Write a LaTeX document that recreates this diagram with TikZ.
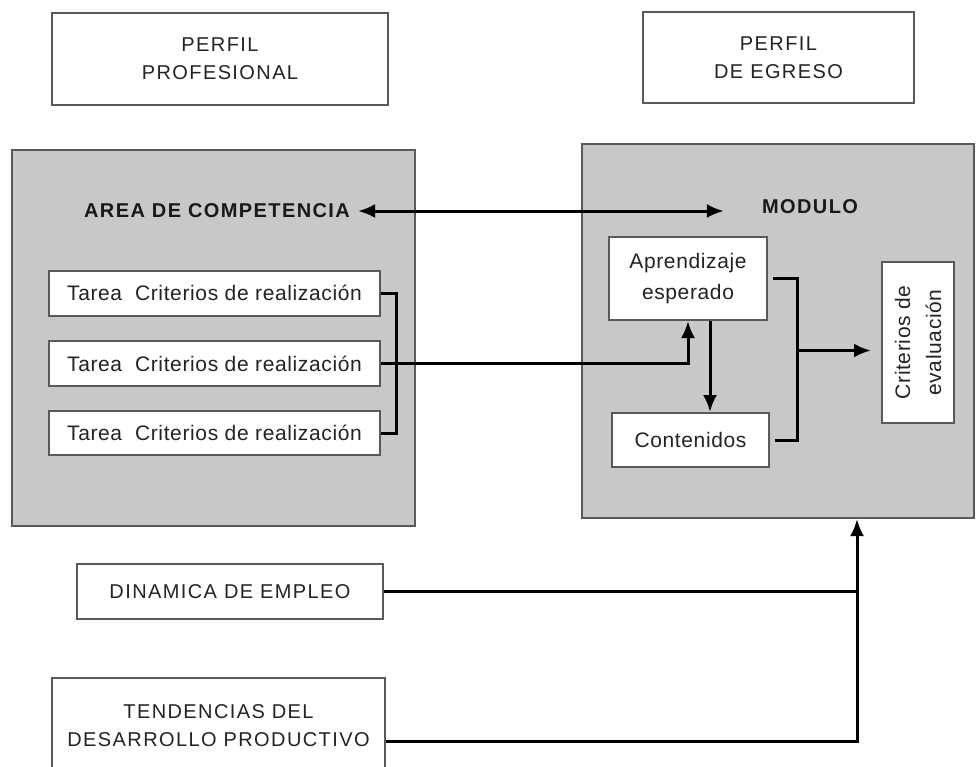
\documentclass[tikz,border=0pt]{standalone}
\usepackage{fontspec}
\setmainfont{Liberation Sans}
\newfontfamily\lcfam{Liberation Sans}[LetterSpace=3]
\newfontfamily\ucfam{Liberation Sans}[LetterSpace=7]
\usetikzlibrary{arrows.meta}
\definecolor{bggray}{RGB}{200,200,200}
\definecolor{bordergray}{RGB}{90,90,90}
\definecolor{txtgray}{RGB}{35,35,35}
\newcommand{\lcf}{\lcfam\fontsize{21}{31}\selectfont}
\newcommand{\ucf}{\ucfam\fontsize{20}{28}\selectfont}
\tikzset{
  wbox/.style={draw=bordergray, line width=2pt, fill=white, inner sep=0pt, align=center, text=txtgray},
  gbox/.style={draw=bordergray, line width=2pt, fill=bggray, inner sep=0pt},
  title/.style={inner sep=0pt, text=black!90, font=\ucf\bfseries},
  conn/.style={line width=3pt, draw=black},
  tip/.style={-{Latex[length=17pt,width=14pt]}},
  dtip/.style={{Latex[length=17pt,width=14pt]}-{Latex[length=17pt,width=14pt]}}
}
\begin{document}
\begin{tikzpicture}[x=1pt,y=-1pt]
\useasboundingbox[fill=white] (0,0) rectangle (977,766);
% top boxes
\node[wbox, font=\ucf, minimum width=336pt, minimum height=92pt] (pp) at (220,59) {PERFIL\\PROFESIONAL};
\node[wbox, font=\ucf, minimum width=271pt, minimum height=91pt] (pe) at (778.5,57.5) {PERFIL\\DE EGRESO};
% gray panels
\node[gbox, minimum width=403pt, minimum height=376pt] (lg) at (213.5,338) {};
\node[gbox, minimum width=392pt, minimum height=374pt] (rg) at (778,331) {};
% titles
\node[title] (area) at (217,211) {AREA DE COMPETENCIA};
\node[title] (mod) at (810,207) {MODULO};
% tasks
\node[wbox, font=\lcf, minimum width=331pt, minimum height=45pt] (t1) at (214.5,293) {Tarea\ \ Criterios de realización};
\node[wbox, font=\lcf, minimum width=331pt, minimum height=45pt] (t2) at (214.5,363.5) {Tarea\ \ Criterios de realización};
\node[wbox, font=\lcf, minimum width=331pt, minimum height=44pt] (t3) at (214.5,433) {Tarea\ \ Criterios de realización};
% module inner boxes
\node[wbox, font=\lcf, minimum width=158pt, minimum height=83pt] (apr) at (688,278.5) {Aprendizaje\\esperado};
\node[wbox, font=\lcf, minimum width=157pt, minimum height=54pt] (con) at (690.5,440) {Contenidos};
\node[wbox, font=\lcf, rotate=90, minimum width=161pt, minimum height=72pt] (crit) at (918,342.5) {Criterios de\\evaluación};
% bottom boxes
\node[wbox, font=\ucf, minimum width=306pt, minimum height=55pt] (din) at (230,591.5) {DINAMICA DE EMPLEO};
\node[wbox, font=\ucf, minimum width=333pt, minimum height=102pt, text depth=6pt] (ten) at (218.5,729) {TENDENCIAS DEL\\DESARROLLO PRODUCTIVO};
% connectors
\draw[conn, dtip] ([xshift=8pt]area.east) -- ([xshift=-38pt]area.east -| mod.west);
\draw[conn] (t1.east) -- ++(15,0) |- (t3.east);
\draw[conn, tip] (t2.east) -| (apr.south);
\coordinate (dtop) at ([xshift=22pt]apr.south);
\draw[conn, tip] (dtop) -- (dtop |- con.north);
\coordinate (bx) at ([xshift=29pt]apr.east);
\draw[conn] ([xshift=5pt]apr.east) -- (bx) |- ([xshift=5pt]con.east);
\coordinate (ca) at ([xshift=-10pt,yshift=-8pt]crit.north);
\draw[conn, tip] (bx |- ca) -- (ca);
\coordinate (jn) at ([xshift=79pt]rg.south);
\draw[conn] (din.east) -- (din.east -| jn);
\draw[conn, tip] ([yshift=-12pt]ten.east) -| (jn);
\end{tikzpicture}
\end{document}
